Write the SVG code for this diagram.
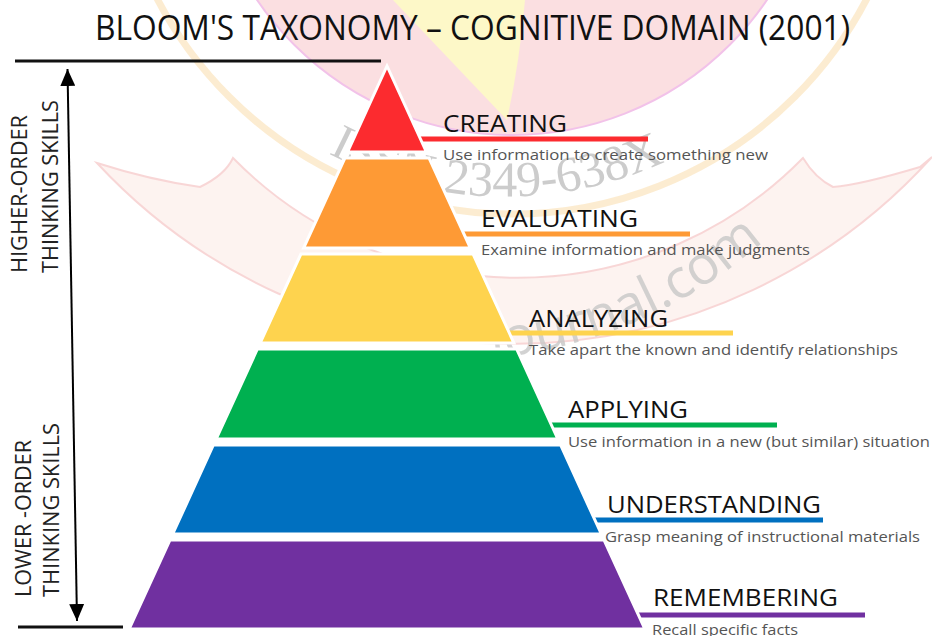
<svg xmlns="http://www.w3.org/2000/svg" width="932" height="636" viewBox="0 0 932 636">
  <style>
    .lbl{font-family:"Open Sans","Liberation Sans",sans-serif;font-size:24px;fill:#111}
    .desc{font-family:"Open Sans","Liberation Sans",sans-serif;font-size:15px;fill:#555}
    .side{font-family:"Open Sans","Liberation Sans",sans-serif;font-size:22px;fill:#222}
    .title{font-family:"Open Sans","Liberation Sans",sans-serif;font-size:35px;fill:#111}
    .layer{stroke:#fff;stroke-width:3;stroke-linejoin:miter}
    .uline{stroke-width:5;fill:none}
    .wm{font-family:"Liberation Serif",serif;font-size:50px;fill:#c4c4c4}
    .wm2{font-family:"Open Sans","Liberation Sans",sans-serif;font-size:54px;fill:#c8c8c8}
  </style>
  <defs>
    <marker id="ah" markerUnits="userSpaceOnUse" markerWidth="17" markerHeight="15" refX="17" refY="7.5" orient="auto-start-reverse">
      <path d="M0,0 L17,7.5 L0,15 z" fill="#000"/>
    </marker>
    <path id="wmArc1" d="M 250 100 A 385 385 0 0 0 760 100"/>
    <path id="wmArc2" d="M 440 360 A 480 480 0 0 0 830 170"/>
  </defs>
  <rect width="932" height="636" fill="#fff"/>

  <!-- faint watermark background -->
  <g id="watermark">
    <circle cx="512" cy="-173" r="308" fill="#fbdadc" stroke="#f0b8e6" stroke-width="2" opacity="0.85"/>
    <path d="M 393 0 Q 450 60 507 120 Q 520 60 525 0 Z" fill="#fdf8c8"/>
    <circle cx="512" cy="-186" r="400" fill="none" stroke="#fbe7c6" stroke-width="7" opacity="0.8"/>
    <path d="M 97 163 A 566 566 0 0 0 932 157 L 920 167 Q 860 185 833 187 Q 815 178 803 158 A 399 399 0 0 1 233 158 Q 225 175 200 187 Q 150 180 97 163 Z" fill="#fdefeb" stroke="#f6c6c6" stroke-width="2" opacity="0.7"/>
    <text class="wm" opacity="0.85"><textPath href="#wmArc1" startOffset="95">ISSN 2349-638X</textPath></text>
    <text class="wm2" opacity="0.8"><textPath href="#wmArc2" startOffset="52">journal.com</textPath></text>
  </g>

  <!-- title -->
  <text id="title" class="title" x="95" y="40" textLength="755" lengthAdjust="spacingAndGlyphs">BLOOM'S TAXONOMY – COGNITIVE DOMAIN (2001)</text>

  <!-- connectors: underlines and side arrows -->
  <g id="connectors">
    <line x1="410" y1="139" x2="648" y2="139" class="uline" stroke="#fc2b2f"/>
    <line x1="455" y1="234" x2="690" y2="234" class="uline" stroke="#fe9a35"/>
    <line x1="500" y1="333" x2="733" y2="333" class="uline" stroke="#fed34e"/>
    <line x1="542" y1="425" x2="777" y2="425" class="uline" stroke="#00b050"/>
    <line x1="585" y1="520" x2="823" y2="520" class="uline" stroke="#0070c0"/>
    <line x1="628" y1="615" x2="865" y2="615" class="uline" stroke="#7030a0"/>
    <line x1="15" y1="61" x2="381" y2="61" stroke="#111" stroke-width="3"/>
    <line x1="18" y1="627" x2="123" y2="627" stroke="#111" stroke-width="3"/>
    <line x1="67.5" y1="69" x2="77" y2="621" stroke="#000" stroke-width="2" marker-start="url(#ah)" marker-end="url(#ah)"/>
  </g>

  <!-- pyramid layers -->
  <g id="creating">
    <polygon class="layer" fill="#fc2b2f" points="387,66 426.4,152 347.6,152"/>
    <text class="lbl" x="443" y="132" textLength="124" lengthAdjust="spacingAndGlyphs">CREATING</text>
    <text class="desc" x="443" y="160" textLength="325" lengthAdjust="spacingAndGlyphs">Use information to create something new</text>
  </g>
  <g id="evaluating">
    <polygon class="layer" fill="#fe9a35" points="344.9,158 429.1,158 470.4,248 303.6,248"/>
    <text class="lbl" x="481" y="227" textLength="157" lengthAdjust="spacingAndGlyphs">EVALUATING</text>
    <text class="desc" x="481" y="255" textLength="329" lengthAdjust="spacingAndGlyphs">Examine information and make judgments</text>
  </g>
  <g id="analyzing">
    <polygon class="layer" fill="#fed34e" points="300.9,254 473.1,254 513.9,343 260.1,343"/>
    <text class="lbl" x="529" y="327" textLength="139" lengthAdjust="spacingAndGlyphs">ANALYZING</text>
    <text class="desc" x="529" y="355" textLength="369" lengthAdjust="spacingAndGlyphs">Take apart the known and identify relationships</text>
  </g>
  <g id="applying">
    <polygon class="layer" fill="#00b050" points="257.4,349 516.6,349 557.8,439 216.2,439"/>
    <text class="lbl" x="568" y="418" textLength="120" lengthAdjust="spacingAndGlyphs">APPLYING</text>
    <text class="desc" x="568" y="447" textLength="362" lengthAdjust="spacingAndGlyphs">Use information in a new (but similar) situation</text>
  </g>
  <g id="understanding">
    <polygon class="layer" fill="#0070c0" points="213.4,445 560.6,445 601.3,534 172.7,534"/>
    <text class="lbl" x="607" y="513" textLength="214" lengthAdjust="spacingAndGlyphs">UNDERSTANDING</text>
    <text class="desc" x="605" y="542" textLength="315" lengthAdjust="spacingAndGlyphs">Grasp meaning of instructional materials</text>
  </g>
  <g id="remembering">
    <polygon class="layer" fill="#7030a0" points="169.9,540 604.1,540 644.9,629 129.1,629"/>
    <text class="lbl" x="653" y="606" textLength="185" lengthAdjust="spacingAndGlyphs">REMEMBERING</text>
    <text class="desc" x="652" y="635" textLength="146" lengthAdjust="spacingAndGlyphs">Recall specific facts</text>
  </g>

  <!-- side labels -->
  <g id="higher-order">
    <text class="side" transform="translate(27,273) rotate(-90)" textLength="158" lengthAdjust="spacingAndGlyphs">HIGHER-ORDER</text>
    <text class="side" transform="translate(58,273) rotate(-90)" textLength="173" lengthAdjust="spacingAndGlyphs">THINKING SKILLS</text>
  </g>
  <g id="lower-order">
    <text class="side" transform="translate(31,597) rotate(-90)" textLength="157" lengthAdjust="spacingAndGlyphs">LOWER -ORDER</text>
    <text class="side" transform="translate(59,597) rotate(-90)" textLength="174" lengthAdjust="spacingAndGlyphs">THINKING SKILLS</text>
  </g>
</svg>
